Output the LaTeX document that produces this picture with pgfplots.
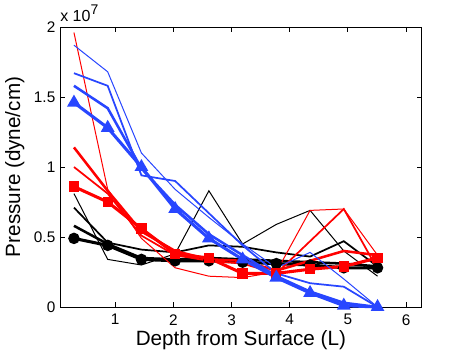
\documentclass[border=0pt]{standalone}
\usepackage{fontspec}
\setmainfont{Liberation Sans}
\usepackage{pgfplots}
\pgfplotsset{compat=1.18}
\definecolor{mblue}{RGB}{40,70,255}
\definecolor{mred}{RGB}{255,0,0}

% depth positions shared by all profiles
\pgfplotstableread{
x     b1   b2   b3   b4   r1   r2   r3   r4   u1   u2   u3   u4
0.29  0.49 0.58 0.71 0.81 0.86 1.14 1.00 1.96 1.46 1.58 1.67 1.87
0.87  0.44 0.45 0.46 0.34 0.75 0.83 0.81 0.84 1.28 1.42 1.58 1.68
1.45  0.34 0.35 0.41 0.30 0.56 0.54 0.51 0.49 1.00 0.99 0.94 1.10
2.03  0.33 0.34 0.39 0.38 0.38 0.40 0.37 0.28 0.70 0.73 0.90 0.84
2.61  0.33 0.35 0.44 0.83 0.35 0.34 0.33 0.22 0.49 0.52 0.67 0.64
3.19  0.32 0.34 0.43 0.45 0.24 0.33 0.31 0.21 0.34 0.37 0.44 0.45
3.77  0.31 0.33 0.39 0.59 0.24 0.26 0.24 0.25 0.21 0.22 0.24 0.28
4.35  0.30 0.32 0.36 0.69 0.27 0.33 0.47 0.69 0.10 0.11 0.17 0.39
4.93  0.28 0.31 0.47 0.40 0.29 0.40 0.70 0.70 0.01 0.03 0.145 0.20
5.51  0.28 0.29 0.29 0.22 0.35 0.37 0.27 0.37 0.00 0.00 0.00 0.00
}\prof

\begin{document}
\begin{tikzpicture}
\path[use as bounding box, fill=white] (0,0) rectangle (350.25pt,264pt);
\begin{axis}[
  at={(45pt,33.75pt)}, anchor=south west,
  scale only axis, width=271.3pt, height=210pt,
  xmin=0.05, xmax=6.27, ymin=0, ymax=2,
  xtick={1,2,3,4,5,6},
  ytick={0,0.5,1,1.5,2},
  yticklabels={0,0.5,1,1.5,2},
  tick align=inside, major tick length=3.75pt,
  axis line style={black, line width=0.6pt},
  every tick/.style={black, line width=0.6pt},
  ticklabel style={font=\fontsize{11.5}{13}\selectfont},
  /pgf/number format/assume math mode=true,
  xticklabel style={yshift=-2pt},
  xlabel={Depth from Surface (L)},
  ylabel={Pressure (dyne/cm)},
  label style={font=\fontsize{15.5}{18}\selectfont},
  xlabel style={at={(rel axis cs:0.5,-0.118)}, anchor=center},
  ylabel style={at={(rel axis cs:-0.125,0.5)}, anchor=center},
  clip=false,
]
% black profiles
\addplot[black, line width=0.75pt] table[x=x, y=b4] {\prof};
\addplot[black, line width=1.3pt] table[x=x, y=b3] {\prof};
\addplot[black, line width=1.9pt] table[x=x, y=b2] {\prof};
\addplot[black, line width=2.3pt, mark=*, mark size=3.1pt] table[x=x, y=b1] {\prof};
% red profiles
\addplot[mred, line width=0.75pt] table[x=x, y=r4] {\prof};
\addplot[mred, line width=1.3pt] table[x=x, y=r3] {\prof};
\addplot[mred, line width=1.9pt] table[x=x, y=r2] {\prof};
\addplot[mred, line width=2.3pt, mark=square*, mark size=2.7pt] table[x=x, y=r1] {\prof};
% blue profiles
\addplot[mblue, line width=0.75pt] table[x=x, y=u4] {\prof};
\addplot[mblue, line width=1.3pt] table[x=x, y=u3] {\prof};
\addplot[mblue, line width=1.9pt] table[x=x, y=u2] {\prof};
\addplot[mblue, line width=2.3pt, mark=triangle*, mark size=3.7pt] table[x=x, y=u1] {\prof};
\node[anchor=base west, inner sep=0pt, font=\fontsize{12}{14}\selectfont]
  at ([yshift=4pt]rel axis cs:0,1) {x 10\raisebox{5pt}{\fontsize{10.5}{12}\selectfont 7}};
\end{axis}
\end{tikzpicture}
\end{document}
